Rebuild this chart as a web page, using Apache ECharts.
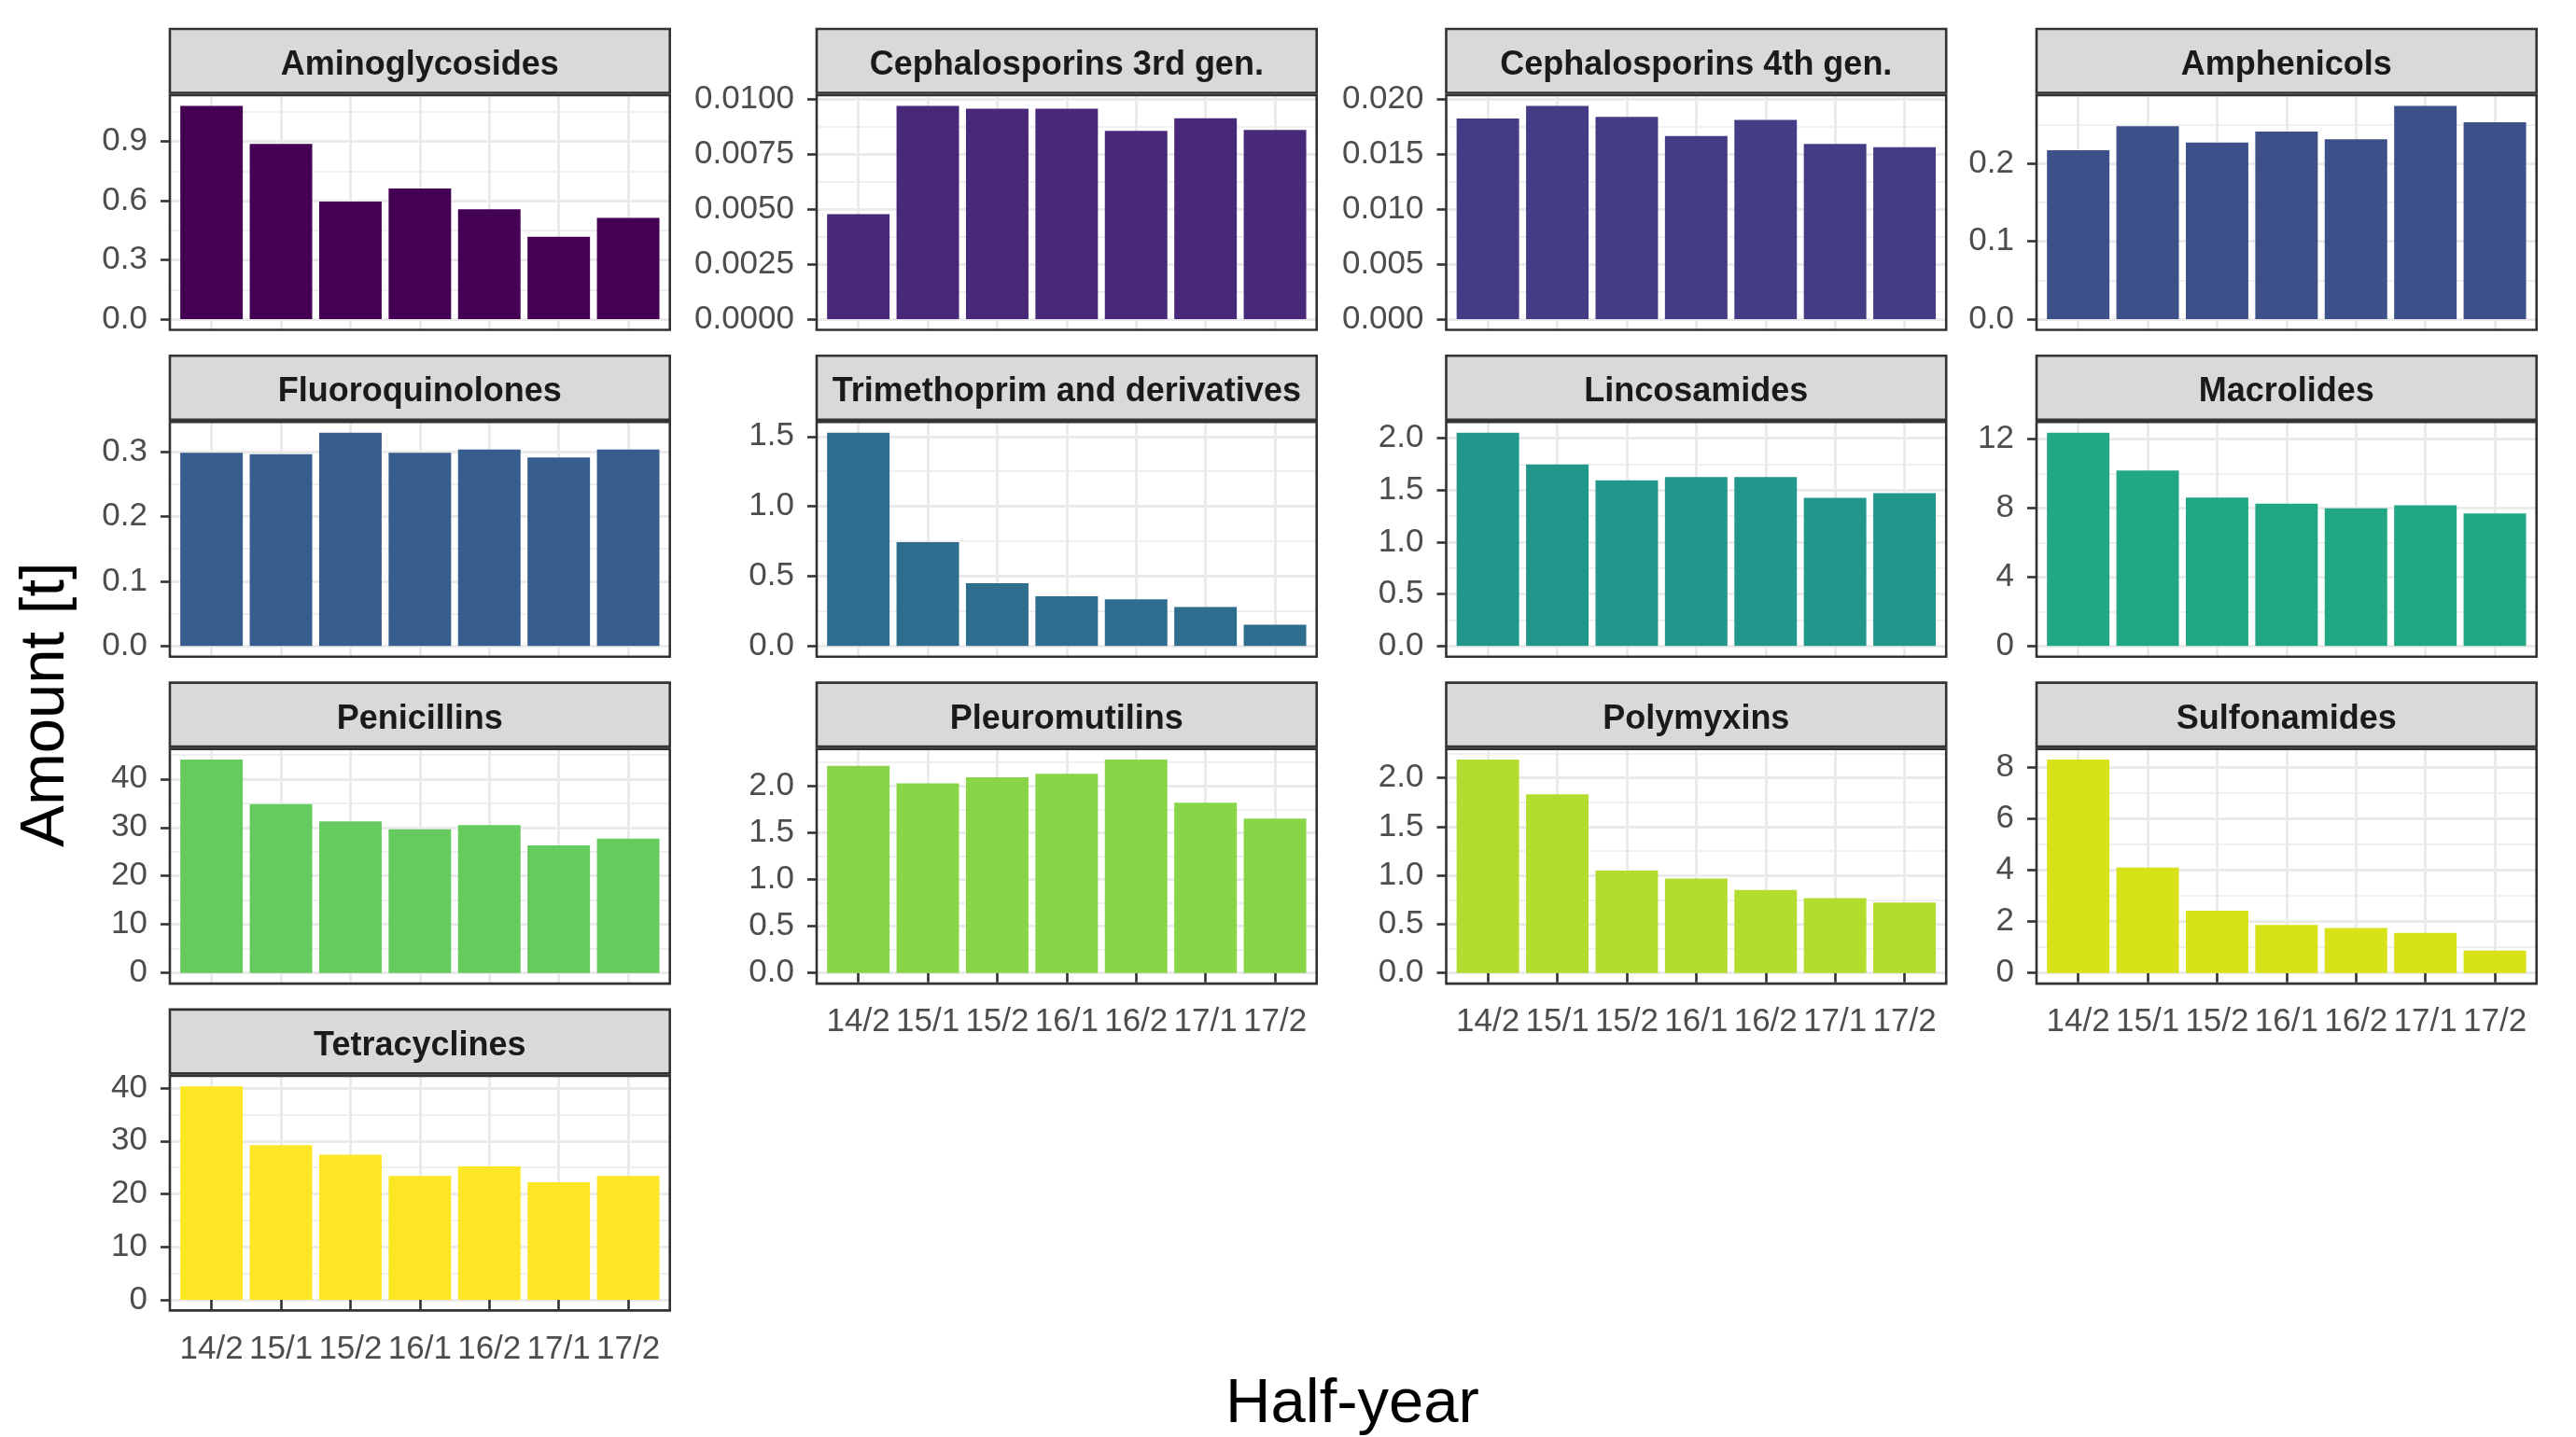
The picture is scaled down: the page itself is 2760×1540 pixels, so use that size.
<!DOCTYPE html>
<html>
<head>
<meta charset="utf-8">
<script src="https://cdn.jsdelivr.net/npm/echarts@6/dist/echarts.min.js"></script>
<style>
  html, body { margin: 0; padding: 0; background: #ffffff; }
  #chart { width: 2760px; height: 1540px; }
</style>
</head>
<body>
<div id="chart"></div>
<script>
// Half-year periods on the x axis
const halfYears = ['14/2', '15/1', '15/2', '16/1', '16/2', '17/1', '17/2'];

// Antimicrobial classes, in facet order
const classNames = [
  'Aminoglycosides', 'Cephalosporins 3rd gen.', 'Cephalosporins 4th gen.', 'Amphenicols',
  'Fluoroquinolones', 'Trimethoprim and derivatives', 'Lincosamides', 'Macrolides',
  'Penicillins', 'Pleuromutilins', 'Polymyxins', 'Sulfonamides',
  'Tetracyclines'
];

// Amount sold per half-year [t]
const aminoglycosides  = [1.08, 0.887, 0.595, 0.662, 0.556, 0.417, 0.513];
const cephalosporins3  = [0.00477, 0.00969, 0.00956, 0.00956, 0.00855, 0.00913, 0.00860];
const cephalosporins4  = [0.01823, 0.01938, 0.01837, 0.01665, 0.01811, 0.01592, 0.01563];
const amphenicols      = [0.217, 0.248, 0.227, 0.241, 0.231, 0.274, 0.253];
const fluoroquinolones = [0.298, 0.296, 0.329, 0.298, 0.303, 0.291, 0.303];
const trimethoprim     = [1.527, 0.743, 0.450, 0.357, 0.335, 0.280, 0.152];
const lincosamides     = [2.053, 1.748, 1.596, 1.626, 1.626, 1.427, 1.472];
const macrolides       = [12.38, 10.19, 8.62, 8.26, 7.99, 8.17, 7.70];
const penicillins      = [44.0, 34.8, 31.25, 29.6, 30.5, 26.3, 27.7];
const pleuromutilins   = [2.215, 2.026, 2.093, 2.129, 2.281, 1.821, 1.650];
const polymyxins       = [2.187, 1.832, 1.048, 0.968, 0.851, 0.768, 0.721];
const sulfonamides     = [8.29, 4.09, 2.418, 1.865, 1.745, 1.552, 0.866];
const tetracyclines    = [40.3, 29.2, 27.4, 23.4, 25.2, 22.2, 23.4];

// Y tick values of each facet
const yTicks = [
  [0, 0.3, 0.6, 0.9],
  [0, 0.0025, 0.005, 0.0075, 0.01],
  [0, 0.005, 0.01, 0.015, 0.02],
  [0, 0.1, 0.2],
  [0, 0.1, 0.2, 0.3],
  [0, 0.5, 1, 1.5],
  [0, 0.5, 1, 1.5, 2],
  [0, 4, 8, 12],
  [0, 10, 20, 30, 40],
  [0, 0.5, 1, 1.5, 2],
  [0, 0.5, 1, 1.5, 2],
  [0, 2, 4, 6, 8],
  [0, 10, 20, 30, 40]
];
const yDecimals = [1, 4, 3, 1, 1, 1, 1, 0, 0, 1, 1, 0, 0];

// Fill colour of each class (viridis palette)
const classColors = [
  '#440154', '#482878', '#443C84', '#3D508A',
  '#365D8D', '#2E6D8E', '#21978B', '#22A784',
  '#65CB5E', '#89D548', '#B2DD2E', '#D8E219',
  '#FDE725'
];

const amounts = [
  aminoglycosides, cephalosporins3, cephalosporins4, amphenicols,
  fluoroquinolones, trimethoprim, lincosamides, macrolides,
  penicillins, pleuromutilins, polymyxins, sulfonamides,
  tetracyclines
];

// ---- facet layout ----
const FONT = "'Liberation Sans', Arial, Helvetica, sans-serif";
const colLeft = [182, 875, 1549.5, 2182];
const panelW = 535.7;
const rowPitch = 350.3;
const stripTop0 = 31, stripH = 68.5;
const panelTop0 = 102, panelH = 251.5;
const unit = panelW / 7.2;           // one category step (0.6 padding each side)
const gridColor = '#EBEBEB';
const darkLine = '#333333';
const borderW = 2.6;

const grids = [], xAxes = [], yAxes = [], series = [], graphics = [];

amounts.forEach(function (vals, p) {
  const row = Math.floor(p / 4), col = p % 4;
  const left = colLeft[col];
  const stripTop = stripTop0 + row * rowPitch;
  const panelTop = panelTop0 + row * rowPitch;
  const panelBottom = panelTop + panelH;
  const hasXAxis = (p + 4) >= amounts.length;

  const maxV = Math.max.apply(null, vals);
  const lo = -0.05 * maxV, hi = 1.05 * maxV;
  const k = panelH / (hi - lo);
  const ticks = yTicks[p];
  const step = ticks[1] - ticks[0];
  const topVal = parseFloat((Math.ceil(hi / step - 1e-9) * step).toFixed(10));
  const y0 = panelBottom - (0 - lo) * k;

  // background grid: y ticks, labels, horizontal grid lines
  grids.push({ left: left, width: panelW, top: y0 - topVal * k, height: topVal * k });
  xAxes.push({ gridIndex: 2 * p, type: 'value', show: false, min: 0, max: 1 });
  yAxes.push({
    gridIndex: 2 * p, type: 'value', min: 0, max: topVal, interval: step,
    axisLine: { show: false },
    axisTick: { show: true, customValues: ticks, length: 10, lineStyle: { color: darkLine, width: borderW } },
    axisLabel: {
      customValues: ticks, margin: 24, color: '#4D4D4D', fontSize: 35, fontFamily: FONT,
      formatter: (function (d) { return function (v) { return Number(v).toFixed(d); }; })(yDecimals[p])
    },
    splitLine: { show: true, lineStyle: { color: gridColor, width: 3 } },
    minorTick: { show: false, splitNumber: 2 },
    minorSplitLine: { show: true, lineStyle: { color: gridColor, width: 1.5 } }
  });

  // foreground grid: categories and bars
  grids.push({ left: left + 0.6 * unit, width: 6 * unit, top: panelTop, height: panelH });
  xAxes.push({
    gridIndex: 2 * p + 1, type: 'category', data: halfYears, boundaryGap: false,
    axisLine: { show: false },
    axisTick: { show: hasXAxis, interval: 0, length: 10, lineStyle: { color: darkLine, width: borderW } },
    axisLabel: { show: hasXAxis, interval: 0, margin: 24, color: '#4D4D4D', fontSize: 35, fontFamily: FONT },
    splitLine: { show: true, interval: 0, lineStyle: { color: gridColor, width: 3 } }
  });
  yAxes.push({ gridIndex: 2 * p + 1, type: 'value', min: lo, max: hi, show: false, splitLine: { show: false } });

  series.push({
    name: classNames[p], type: 'bar', xAxisIndex: 2 * p + 1, yAxisIndex: 2 * p + 1,
    data: vals, barWidth: 0.9 * unit, clip: false, silent: true,
    itemStyle: { color: classColors[p] }
  });

  // panel frame and strip
  graphics.push({
    type: 'rect', z: 100, silent: true,
    shape: { x: left, y: panelTop, width: panelW, height: panelH },
    style: { fill: 'none', stroke: darkLine, lineWidth: borderW }
  });
  graphics.push({
    type: 'rect', z: 100, silent: true,
    shape: { x: left, y: stripTop, width: panelW, height: stripH },
    style: { fill: '#D9D9D9', stroke: darkLine, lineWidth: borderW }
  });
  graphics.push({
    type: 'text', z: 101, silent: true,
    x: left + panelW / 2, y: stripTop + 39,
    style: {
      text: classNames[p], align: 'center', verticalAlign: 'middle',
      font: 'bold 36px ' + FONT, fill: '#1A1A1A'
    }
  });
});

// axis titles
graphics.push({
  type: 'text', z: 101, silent: true, x: 50, y: 755, rotation: Math.PI / 2,
  style: { text: 'Amount [t]', align: 'center', verticalAlign: 'middle', font: '67px ' + FONT, fill: '#000000' }
});
graphics.push({
  type: 'text', z: 101, silent: true, x: 1449, y: 1506,
  style: { text: 'Half-year', align: 'center', verticalAlign: 'middle', font: '67px ' + FONT, fill: '#000000' }
});

const chart = echarts.init(document.getElementById('chart'), null, { renderer: 'canvas' });
chart.setOption({
  animation: false,
  backgroundColor: '#ffffff',
  grid: grids,
  xAxis: xAxes,
  yAxis: yAxes,
  series: series,
  graphic: { elements: graphics }
});
</script>
</body>
</html>
